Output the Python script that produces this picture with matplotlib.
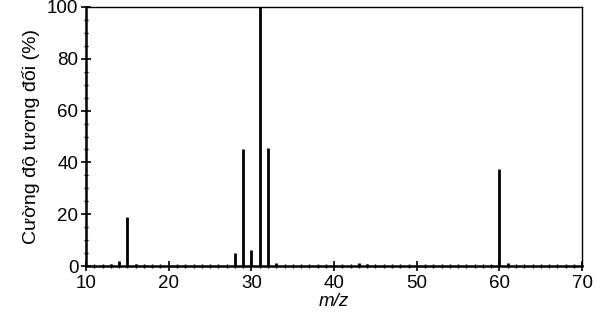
import matplotlib
matplotlib.use("Agg")
import matplotlib.pyplot as plt
from matplotlib.ticker import MultipleLocator

plt.rcParams['font.family'] = ['Liberation Sans', 'DejaVu Sans']

mz = [12, 13, 14, 15, 16, 17, 28, 29, 30, 31, 32, 33, 43, 44, 59, 60, 61]
intensity = [0.5, 0.6, 2.0, 19, 0.6, 0.5, 5, 45, 6, 100, 45.5, 1.2, 1.3, 0.8, 0.5, 37.5, 1.0]

fig = plt.figure(figsize=(6.02, 3.18), dpi=100)
ax = fig.add_axes([0.143, 0.1635, 0.824, 0.8145])
ax.vlines(mz, 0, intensity, colors='black', linewidth=2.0)

ax.set_xlim(10, 70)
ax.set_ylim(0, 100)
ax.xaxis.set_major_locator(MultipleLocator(10))
ax.xaxis.set_minor_locator(MultipleLocator(1))
ax.yaxis.set_major_locator(MultipleLocator(20))
ax.yaxis.set_minor_locator(MultipleLocator(5))
ax.tick_params(axis='both', which='major', direction='inout', length=7, width=1.2, labelsize=13.5)
ax.tick_params(axis='x', which='major', pad=3)
ax.tick_params(axis='y', which='major', pad=2)
ax.tick_params(axis='both', which='minor', direction='inout', length=3.5, width=1)

for s in ['left', 'bottom']:
    ax.spines[s].set_linewidth(1.8)
for s in ['top', 'right']:
    ax.spines[s].set_linewidth(1.0)

ax.set_ylabel('Cường độ tương đối (%)', fontsize=14, labelpad=5)
ax.set_xlabel('m/z', fontsize=13.5, style='italic', labelpad=1)

fig.savefig('out.png', dpi=100)
